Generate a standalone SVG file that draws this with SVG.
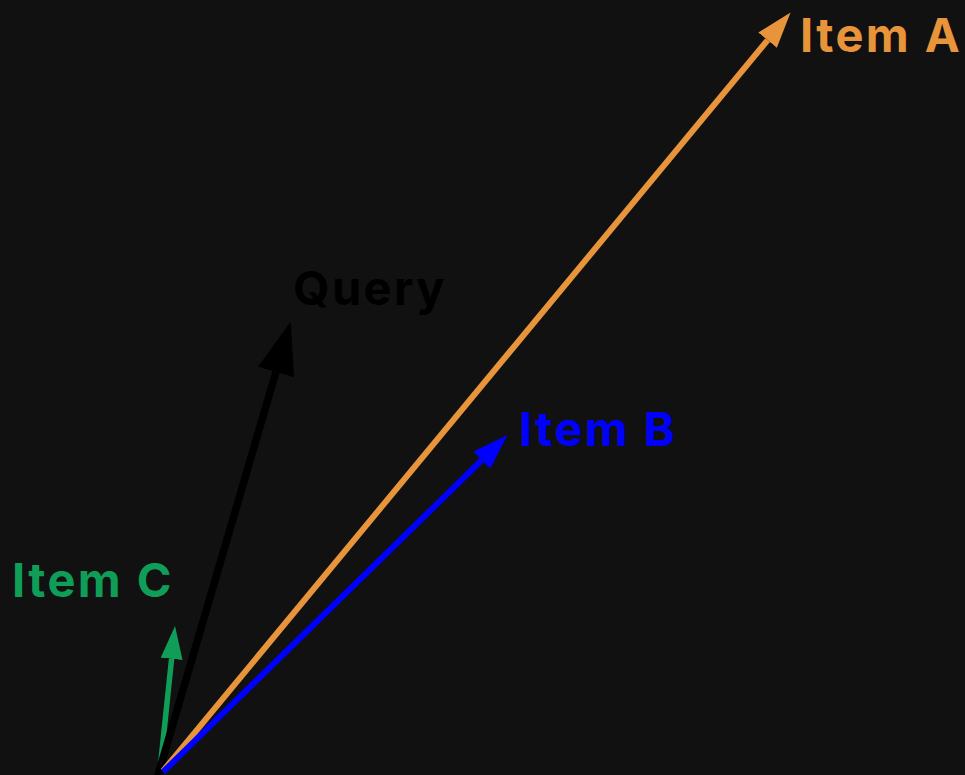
<svg xmlns="http://www.w3.org/2000/svg" width="965" height="775" viewBox="0 0 965 775">
<defs>
<style>
.lbl{font-family:Inter,"Open Sans","Liberation Sans",sans-serif;font-weight:700;font-size:47px;letter-spacing:2.4px}
.vec{fill:none;stroke-linecap:butt}
</style>
<marker id="hA" viewBox="0 0 6 4" markerWidth="6" markerHeight="4" refX="0" refY="2" orient="auto" markerUnits="strokeWidth"><path d="M0,0L6,2L0,4z" fill="#E8943A"/></marker>
<marker id="hB" viewBox="0 0 6 4" markerWidth="6" markerHeight="4" refX="0" refY="2" orient="auto" markerUnits="strokeWidth"><path d="M0,0L6,2L0,4z" fill="#0000FF"/></marker>
<marker id="hC" viewBox="0 0 6 4" markerWidth="6" markerHeight="4" refX="0" refY="2" orient="auto" markerUnits="strokeWidth"><path d="M0,0L6,2L0,4z" fill="#0F9D58"/></marker>
<marker id="hQ" viewBox="0 0 7 5" markerWidth="7" markerHeight="5" refX="0" refY="2.5" orient="auto" markerUnits="strokeWidth"><path d="M0,0L7,2.5L0,5z" fill="#000000"/></marker>
</defs>
<rect width="965" height="775" fill="#111111"/>
<g id="connectors">
<path id="vecC" class="vec" d="M160,770L171.6,658.8" stroke="#0F9D58" stroke-width="5.5" marker-end="url(#hC)"/>
<path id="vecQ" class="vec" d="M157.2,778L276,372" stroke="#000000" stroke-width="7.5" marker-end="url(#hQ)"/>
<path id="vecA" class="vec" d="M163,771L767.6,40.2" stroke="#E8943A" stroke-width="6" marker-end="url(#hA)"/>
<path id="vecB" class="vec" d="M163,772L481.8,460.2" stroke="#0000FF" stroke-width="6" marker-end="url(#hB)"/>
</g>
<g id="itemA"><text class="lbl" x="800" y="52" fill="#E8943A">Item A</text></g>
<g id="query"><text class="lbl" x="293" y="305" fill="#000000">Query</text></g>
<g id="itemB"><text class="lbl" x="519" y="446" fill="#0000FF">Item B</text></g>
<g id="itemC"><text class="lbl" x="12" y="597" fill="#0F9D58">Item C</text></g>
</svg>
